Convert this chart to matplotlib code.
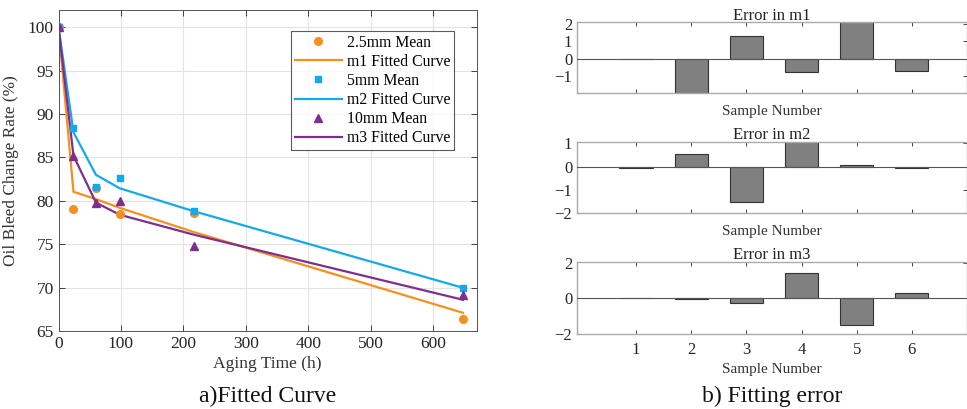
import matplotlib
matplotlib.use("Agg")
import matplotlib.pyplot as plt
import numpy as np

plt.rcParams['font.family'] = ['Liberation Serif', 'DejaVu Serif']

# ---- data ----
time_h = [0, 24, 60, 98, 217, 648]
mean_25 = [100.0, 79.1, 81.5, 78.5, 78.6, 66.4]
fit_m1 = [100.0, 81.05, 80.2, 79.2, 76.4, 67.1]
mean_5 = [100.0, 88.45, 81.55, 82.6, 78.85, 69.9]
fit_m2 = [100.08, 87.9, 83.0, 81.45, 78.8, 69.98]
mean_10 = [100.0, 85.2, 79.8, 80.0, 74.8, 69.1]
fit_m3 = [99.99, 85.2, 79.8, 78.4, 76.1, 68.6]

sample_no = [1, 2, 3, 4, 5, 6]
err_m1 = [0.0, -1.95, 1.31, -0.75, 2.2, -0.72]
err_m2 = [-0.08, 0.53, -1.52, 1.1, 0.05, -0.08]
err_m3 = [0.01, -0.03, -0.26, 1.39, -1.52, 0.3]

c_or = '#F5901E'
c_bl = '#16A8EC'
c_pu = '#7E2F8E'

W, H = 967, 409
fig = plt.figure(figsize=(W / 100, H / 100), dpi=100)

def fr(x0, y0, x1, y1):
    return [x0 / W, 1 - y1 / H, (x1 - x0) / W, (y1 - y0) / H]

axc = '#262626'

# ---- left panel ----
ax = fig.add_axes(fr(58.5, 10, 476.7, 331))
ax.plot(time_h, mean_25, 'o', color=c_or, ms=5.5, label='2.5mm Mean', zorder=3)
ax.plot(time_h, fit_m1, '-', color=c_or, lw=1.6, label='m1 Fitted Curve', zorder=2)
ax.plot(time_h, mean_5, 's', color=c_bl, ms=5, label='5mm Mean', zorder=3)
ax.plot(time_h, fit_m2, '-', color=c_bl, lw=1.6, label='m2 Fitted Curve', zorder=2)
ax.plot(time_h, mean_10, '^', color=c_pu, ms=6, label='10mm Mean', zorder=3)
ax.plot(time_h, fit_m3, '-', color=c_pu, lw=1.6, label='m3 Fitted Curve', zorder=2)
ax.set_xlim(0, 670)
ax.set_ylim(65, 102)
ax.set_xticks([0, 100, 200, 300, 400, 500, 600])
ax.set_yticks([65, 70, 75, 80, 85, 90, 95, 100])
ax.grid(True, color='#e3e3e3', lw=0.8)
ax.set_axisbelow(True)
ax.tick_params(direction='in', top=True, right=True, labelsize=12.5, colors=axc, length=4, width=0.6)
for s in ax.spines.values():
    s.set_color('#555555'); s.set_linewidth(0.7)
ax.set_xlabel('Aging Time (h)', fontsize=12.6, color='#333333', labelpad=3)
ax.set_ylabel('Oil Bleed Change Rate (%)', fontsize=12.4, color='#333333', labelpad=6)
leg = ax.legend(loc='upper right', bbox_to_anchor=(0.946, 0.9355), fontsize=11.3, frameon=True,
                fancybox=False, edgecolor='#333333', handlelength=3.0, borderpad=0.25,
                labelspacing=0.2, handletextpad=0.3, borderaxespad=0)
leg.get_frame().set_linewidth(0.8)
fig.text((58.5 + 476.7) / 2 / W, 1 - 396 / H, 'a)Fitted Curve', ha='center', va='center', fontsize=17, color='#111111')

# ---- right panels ----
panels = [
    (err_m1, (22.3, 93.3), (-1.97, 2.1), [-1, 0, 1, 2], 'Error in m1'),
    (err_m2, (142, 213.3), (-2, 1.05), [-2, -1, 0, 1], 'Error in m2'),
    (err_m3, (262, 334), (-2, 2.03), [-2, 0, 2], 'Error in m3'),
]
for i, (err, (yt, yb), ylim, yticks, title) in enumerate(panels):
    a = fig.add_axes(fr(577, yt, 967, yb))
    a.bar(sample_no, err, width=0.6, color='#808080', edgecolor='#333333', linewidth=0.8, zorder=2)
    a.axhline(0, color='#555555', lw=0.8, zorder=3)
    a.set_xlim(-0.07, 7.0)
    a.set_ylim(*ylim)
    a.set_yticks(yticks)
    a.set_xticks(sample_no)
    a.tick_params(direction='in', top=True, right=True, left=False, labelsize=12, colors=axc, length=3, width=0.6)
    if i < 2:
        a.set_xticklabels([])
    else:
        a.tick_params(axis='x', pad=6)
    for s in a.spines.values():
        s.set_color('#aaaaaa'); s.set_linewidth(1.0)
    a.set_title(title, fontsize=12, pad=2, color='#222222')
    a.set_xlabel('Sample Number', fontsize=11, color='#333333', labelpad=(5 if i < 2 else 3))
fig.text(772 / W, 1 - 396 / H, 'b) Fitting error', ha='center', va='center', fontsize=17, color='#111111')

fig.savefig('out.png', dpi=100)
